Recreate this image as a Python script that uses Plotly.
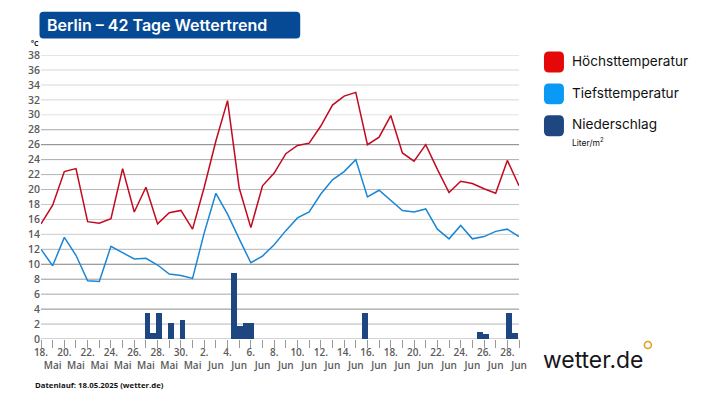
import plotly.graph_objects as go

W = 717
H = 403
LEFT = 40.5
RIGHT = 519
TOP = 54.5
BOTTOM = 339.5

# one entry per day, the reference chart's own labelling is kept as it is
day_labels = ["18.", "Mai", "20.", "Mai", "22.", "Mai", "24.", "Mai", "26.", "Mai", "28.", "Mai", "30.", "Mai",
              "2.", "Jun", "4.", "Jun", "6.", "Jun", "8.", "Jun", "10.", "Jun", "12.", "Jun", "14.", "Jun",
              "16.", "Jun", "18.", "Jun", "20.", "Jun", "22.", "Jun", "24.", "Jun", "26.", "Jun", "28.", "Jun"]
days = list(range(42))

high = [15.4, 17.9, 22.4, 22.8, 15.7, 15.5, 16.1, 22.8, 17.0, 20.3, 15.4, 16.9, 17.2, 14.7,
        20.3, 26.5, 31.9, 20.2, 14.9, 20.5, 22.2, 24.8, 25.9, 26.2, 28.5, 31.3, 32.5, 33.0,
        26.0, 27.0, 29.9, 24.9, 23.8, 26.0, 22.7, 19.6, 21.1, 20.8, 20.1, 19.5, 23.9, 20.5]
low = [12.0, 9.8, 13.6, 11.2, 7.8, 7.7, 12.4, 11.5, 10.7, 10.8, 9.9, 8.7, 8.5, 8.1,
       14.2, 19.5, 16.7, 13.4, 10.2, 11.1, 12.6, 14.5, 16.2, 17.0, 19.4, 21.3, 22.4, 24.0,
       19.0, 19.9, 18.6, 17.2, 17.0, 17.4, 14.7, 13.4, 15.2, 13.4, 13.7, 14.4, 14.7, 13.7]

rain_days = [9.13, 9.63, 10.13, 11.13, 12.13, 16.55, 17.05, 17.55, 18.05, 27.8, 37.65, 38.15, 40.15, 40.65]
rain = [3.5, 0.8, 3.5, 2.1, 2.5, 8.8, 1.7, 2.2, 2.2, 3.5, 0.9, 0.7, 3.5, 0.8]

y_ticks = list(range(0, 39, 2))
grid_colors = ["#a8a8a8", "#b4b4b4", "#8c8c8c", "#a8a8a8", "#999999", "#808080", "#b4b4b4", "#cccccc", "#cfcfcf", "#c4c4c4",
               "#b8b8b8", "#b4b4b4", "#a8a8a8", "#808080", "#a8a8a8", "#e2e2e2", "#e4e4e4", "#e4e4e4", "#e4e4e4", "#cccccc"]


def px_x(x):
    return (x - LEFT) / (RIGHT - LEFT)


def px_y(y):
    return (BOTTOM - y) / (BOTTOM - TOP)


def round_box(x0, y0, x1, y1, r, color):
    a, b, c, d = px_x(x0), px_x(x1), px_y(y0), px_y(y1)
    rx = r / (RIGHT - LEFT)
    ry = r / (BOTTOM - TOP)
    path = (f"M {a + rx} {c} L {b - rx} {c} Q {b} {c} {b} {c - ry} L {b} {d + ry} Q {b} {d} {b - rx} {d} "
            f"L {a + rx} {d} Q {a} {d} {a} {d + ry} L {a} {c - ry} Q {a} {c} {a + rx} {c} Z")
    return dict(type="path", xref="paper", yref="paper", path=path, fillcolor=color, line_width=0, layer="above")


def label(x, y, text, size, color, family="Inter", anchor="left", weight=400):
    return dict(xref="paper", yref="paper", x=px_x(x), y=px_y(y), text=text, showarrow=False, xanchor=anchor,
                yanchor="middle", font=dict(size=size, color=color, family=family, weight=weight))


fig = go.Figure()
fig.add_trace(go.Bar(x=rain_days, y=rain, width=0.5, marker_color="#1e4680", marker_line_width=0))
fig.add_trace(go.Scatter(x=days, y=low, mode="lines", line=dict(color="#1a86d6", width=1.5)))
fig.add_trace(go.Scatter(x=days, y=high, mode="lines", line=dict(color="#c4081e", width=1.5)))

shapes = []
for val, col in zip(y_ticks, grid_colors):
    shapes.append(dict(type="line", xref="paper", yref="y", x0=0, x1=1, y0=val, y1=val, layer="below",
                       line=dict(color=col, width=1.5 if col == "#e4e4e4" else 1)))
shapes.append(round_box(39, 11, 300, 38, 4, "#064a96"))
shapes.append(round_box(544, 51, 564, 72, 5, "#e40808"))
shapes.append(round_box(544, 83, 564, 104, 5, "#0a9af5"))
shapes.append(round_box(544, 115, 564, 136, 5, "#1e4680"))
shapes.append(dict(type="circle", xref="paper", yref="paper", x0=px_x(644.5), x1=px_x(651.5), y0=px_y(349), y1=px_y(342),
                   line=dict(color="#e0a020", width=1.6), fillcolor="white"))

notes = [
    label(45, 24, "Berlin – 42 Tage Wettertrend", 16, "white", weight=600),
    label(28, 43, "°C", 7, "#111111", "Open Sans", weight=700),
    label(570, 61, "Höchsttemperatur", 13.6, "#111111"),
    label(570, 93, "Tiefsttemperatur", 13.6, "#111111"),
    label(570, 124, "Niederschlag", 13.6, "#111111"),
    label(570, 142, "Liter/m<sup>2</sup>", 8.5, "#111111"),
    label(32, 386, "Datenlauf: 18.05.2025 (wetter.de)", 7.8, "#111111", "Open Sans", weight=700),
    label(541, 361, "wetter.de", 22.9, "#15151a"),
]

fig.update_layout(
    width=W,
    height=H,
    margin=dict(l=LEFT, r=W - RIGHT, t=TOP, b=H - BOTTOM, pad=0),
    paper_bgcolor="white",
    plot_bgcolor="white",
    showlegend=False,
    shapes=shapes,
    annotations=notes,
    bargap=0,
)
fig.update_xaxes(
    range=[0, 41],
    tickmode="array",
    tickvals=days,
    ticktext=[t if i % 2 == 0 else "<br>" + t for i, t in enumerate(day_labels)],
    tickangle=0,
    ticks="outside",
    ticklen=8,
    tickcolor="#999999",
    tickwidth=1,
    ticklabelstandoff=-4,
    showgrid=False,
    zeroline=False,
    showline=False,
    tickfont=dict(size=10, color="#5a5a5a", family="Open Sans", weight=600),
)
fig.update_yaxes(
    range=[0, 38],
    tickmode="array",
    tickvals=y_ticks,
    showgrid=False,
    zeroline=False,
    showline=False,
    ticks="",
    tickfont=dict(size=10.5, color="#5a5a5a", family="Open Sans", weight=600),
)

fig.write_html("out.html", config=dict(displayModeBar=False), post_script="document.body.style.margin='0';")
